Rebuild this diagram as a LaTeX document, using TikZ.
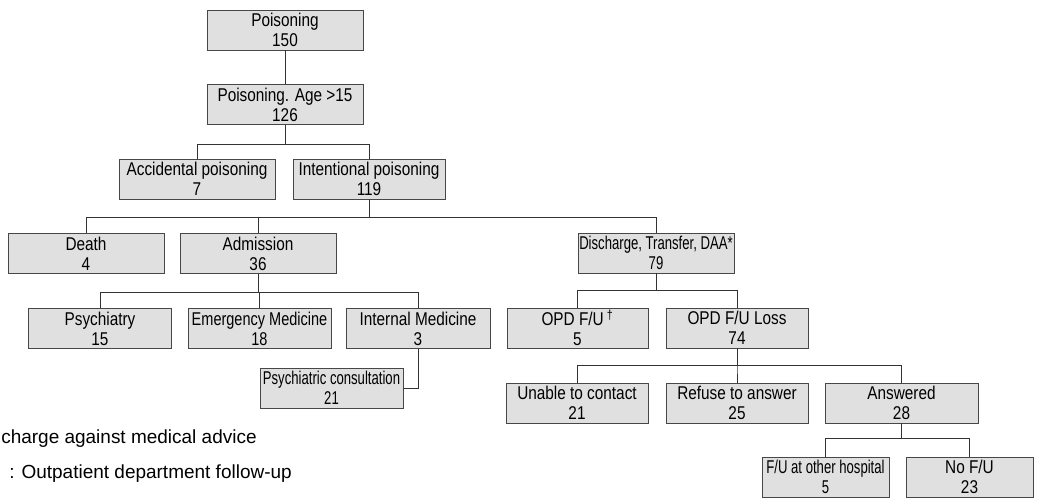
\documentclass[tikz,border=0pt]{standalone}
\usepackage{fontspec}
\setmainfont{Liberation Sans}
\newfontfamily\boxfont{Liberation Sans}[FakeStretch=0.83]
\newfontfamily\midfont{Liberation Sans}[FakeStretch=0.785]
\newfontfamily\narrowfont{Liberation Sans}[FakeStretch=0.71]
\usetikzlibrary{calc}

\tikzset{
 box/.style={draw=black!72, fill=black!12, line width=0.6pt, inner sep=0pt,
   minimum height=1cm, align=center, font=\boxfont\fontsize{13.15}{14.2}\selectfont},
 midbox/.style={box, font=\midfont\fontsize{13.15}{14.2}\selectfont},
 thinbox/.style={box, font=\narrowfont\fontsize{13.15}{14.2}\selectfont},
 link/.style={draw=black!80, line width=0.6pt},
 note/.style={anchor=base west, inner sep=0pt, font=\fontsize{13.5}{16}\selectfont}
}

\begin{document}
\begin{tikzpicture}[x=0.025cm, y=-0.025cm]
 \useasboundingbox (0,0) rectangle (1040,504);

 \node[box, minimum width=3.9cm] (P) at (285,30) {Poisoning\\150};
 \node[box, minimum width=3.9cm] (A) at (285,104.5) {Poisoning. Age >15\\126};
 \node[box, minimum width=3.9cm] (AP) at (197,179) {Accidental poisoning\\7};
 \node[box, minimum width=3.8cm] (IP) at (369,179) {Intentional poisoning\\119};
 \node[box, minimum width=3.9cm] (D) at (86,253.5) {Death\\4};
 \node[box, minimum width=3.9cm] (AD) at (258,253.5) {Admission\\36};
 \node[thinbox, minimum width=3.9cm] (DC) at (656,253) {Discharge, Transfer, DAA*\\79};
 \node[box, minimum width=3.575cm] (PS) at (100,328.5) {Psychiatry\\15};
 \node[midbox, minimum width=3.575cm] (EM) at (259.5,328.5) {Emergency Medicine\\18};
 \node[box, minimum width=3.6cm] (IM) at (418,328.5) {Internal Medicine\\3};
 \node[thinbox, minimum width=3.575cm] (CO) at (331.5,388) {Psychiatric consultation\\21};
 \node[box, minimum width=3.525cm] (OF) at (577.5,328) {OPD F/U\,\textsuperscript{†}\\5};
 \node[box, minimum width=3.55cm] (OL) at (737,328) {OPD F/U Loss\\74};
 \node[box, minimum width=3.55cm] (UC) at (577,403) {Unable to contact\\21};
 \node[box, minimum width=3.55cm] (RA) at (737,403) {Refuse to answer\\25};
 \node[box, minimum width=3.825cm] (AN) at (901.5,403) {Answered\\28};
 \node[thinbox, minimum width=3.175cm] (FO) at (825.5,477) {F/U at other hospital\\5};
 \node[box, minimum width=3.175cm] (NF) at (969.5,477) {No F/U\\23};

 \node[note] (n1) at (1,443) {charge against medical advice};
 \node[note] (n2) at (9,478) {: Outpatient department follow-up};

 \draw[link] (P) -- (A);
 \draw[link] (A.south) -- ++(0,19) -| (AP.north);
 \draw[link] (A.south) -- ++(0,19) -| (IP.north);
 \draw[link] (IP.south) -- ++(0,18) -| (D.north);
 \draw[link] (IP.south) -- ++(0,18) -| (AD.north);
 \draw[link] (IP.south) -- ++(0,18) -| (DC.north);
 \draw[link] (AD.south) -- ++(0,18.5) -| (PS.north);
 \draw[link] (AD.south) -- ++(0,18.5) -| (EM.north);
 \draw[link] (AD.south) -- ++(0,18.5) -| (IM.north);
 \draw[link] (IM.south) |- (CO.east);
 \draw[link] (DC.south) -- ++(0,17) -| (OF.north);
 \draw[link] (DC.south) -- ++(0,17) -| (OL.north);
 \draw[link] (OL.south) -- ++(0,17) -| (UC.north);
 \draw[link] (OL.south) -- ++(0,17) -| (RA.north);
 \draw[link] (OL.south) -- ++(0,17) -| (AN.north);
 \draw[link] (AN.south) -- ++(0,15) -| (FO.north);
 \draw[link] (AN.south) -- ++(0,15) -| (NF.north);
\end{tikzpicture}
\end{document}
